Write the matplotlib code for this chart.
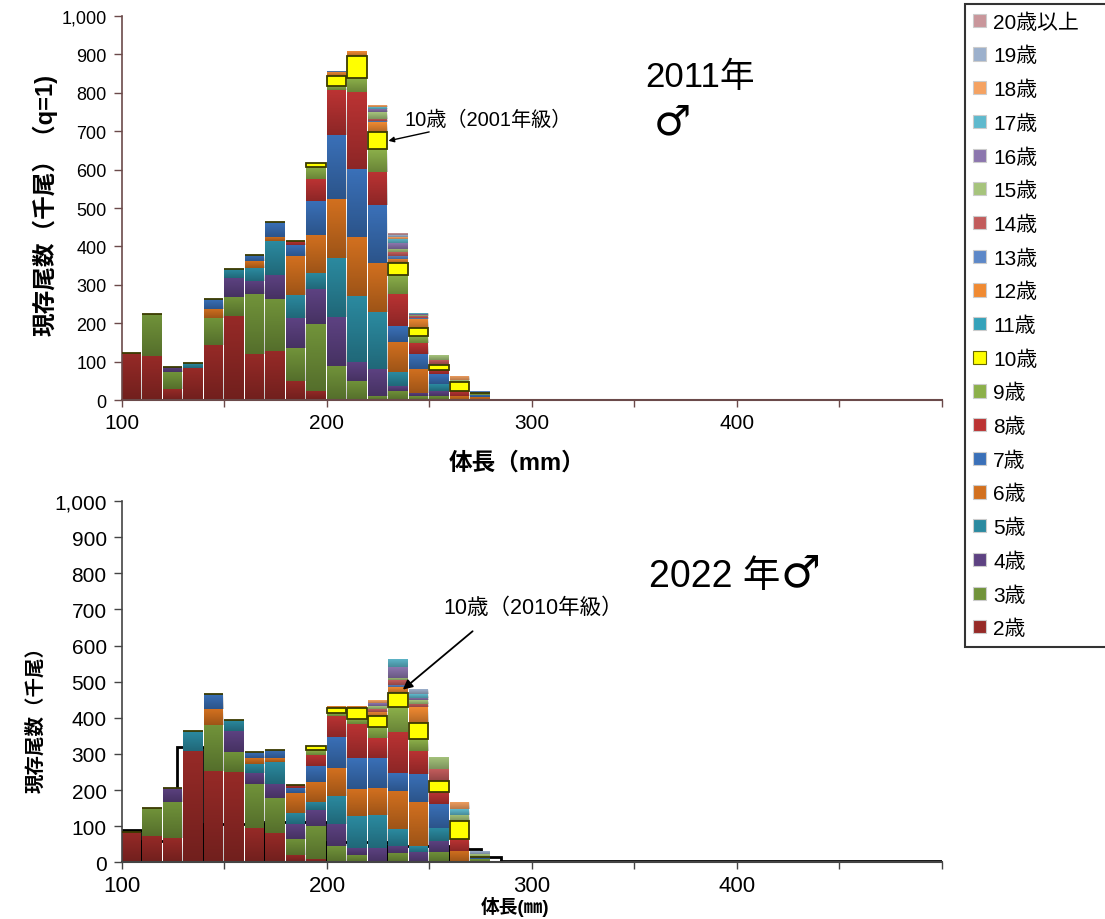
import matplotlib
matplotlib.use("Agg")
import matplotlib.pyplot as plt
import numpy as np
from matplotlib.patches import Patch
from matplotlib.ticker import FuncFormatter

plt.rcParams["font.family"] = ["Liberation Sans", "Noto Sans CJK JP", "DejaVu Sans"]

# 10 mm length bins (left edges)
bins = [100, 110, 120, 130, 140, 150, 160, 170, 180, 190,
        200, 210, 220, 230, 240, 250, 260, 270]

ages = ["2歳", "3歳", "4歳", "5歳", "6歳", "7歳", "8歳", "9歳", "10歳", "11歳",
        "12歳", "13歳", "14歳", "15歳", "16歳", "17歳", "18歳", "19歳", "20歳以上"]
age_colors = ["#962a27", "#71933a", "#5d4282", "#2b8aa0", "#d2701f", "#3a70b8",
              "#bb3333", "#8cb04a", "#ffff00", "#35a2ba", "#f08a32", "#5d88c8",
              "#c25c5c", "#a6c47c", "#8c76ae", "#5fb9cd", "#f5a262", "#9cb0cc",
              "#c9969b"]

# 2011, males: stock numbers (thousand fish) per bin, one list per age
a02_2011 = [122, 114, 28, 83, 144, 220, 120, 127, 50, 24, 2, 0, 0, 0, 0, 0, 0, 0]
a03_2011 = [0, 110, 44, 0, 69, 47, 156, 136, 85, 174, 86, 50, 11, 24, 10, 11, 0, 0]
a04_2011 = [0, 0, 15, 0, 0, 51, 35, 63, 78, 91, 127, 48, 71, 13, 8, 13, 0, 0]
a05_2011 = [0, 0, 0, 13, 0, 23, 33, 87, 60, 42, 154, 174, 146, 35, 0, 18, 0, 0]
a06_2011 = [0, 0, 0, 0, 24, 0, 17, 11, 101, 99, 154, 153, 129, 80, 63, 0, 11, 8]
a07_2011 = [0, 0, 0, 0, 26, 0, 17, 39, 30, 89, 167, 177, 151, 40, 39, 26, 0, 6]
a08_2011 = [0, 0, 0, 0, 0, 0, 0, 0, 9, 57, 117, 201, 87, 84, 28, 11, 13, 0]
a09_2011 = [0, 0, 0, 0, 0, 0, 0, 0, 0, 32, 12, 35, 59, 50, 18, 0, 0, 5]
a10_2011 = [0, 0, 0, 0, 0, 0, 0, 0, 0, 9, 24, 57, 43, 31, 21, 12, 22, 0]
a11_2011 = [0, 0, 0, 0, 0, 0, 0, 0, 0, 0, 0, 0, 0, 3, 0, 0, 0, 0]
a12_2011 = [0, 0, 0, 0, 0, 0, 0, 0, 0, 0, 12, 13, 26, 8, 24, 0, 0, 0]
a13_2011 = [0, 0, 0, 0, 0, 0, 0, 0, 0, 0, 3, 0, 4, 8, 3, 4, 0, 5]
a14_2011 = [0, 0, 0, 0, 0, 0, 0, 0, 0, 0, 0, 0, 6, 10, 4, 10, 0, 0]
a15_2011 = [0, 0, 0, 0, 0, 0, 0, 0, 0, 0, 0, 0, 16, 8, 3, 12, 5, 0]
a16_2011 = [0, 0, 0, 0, 0, 0, 0, 0, 0, 0, 0, 0, 8, 14, 3, 0, 0, 0]
a17_2011 = [0, 0, 0, 0, 0, 0, 0, 0, 0, 0, 0, 0, 5, 12, 2, 0, 0, 0]
a18_2011 = [0, 0, 0, 0, 0, 0, 0, 0, 0, 0, 0, 0, 5, 5, 0, 0, 12, 0]
a19_2011 = [0, 0, 0, 0, 0, 0, 0, 0, 0, 0, 0, 0, 2, 5, 0, 0, 0, 0]
a20_2011 = [0, 0, 0, 0, 0, 0, 0, 0, 0, 0, 0, 0, 0, 4, 0, 0, 0, 0]

# 2022, males
a02_2022 = [83, 74, 66, 309, 253, 249, 94, 80, 20, 9, 0, 0, 0, 0, 0, 0, 0, 0]
a03_2022 = [0, 76, 100, 0, 127, 55, 123, 97, 45, 92, 44, 20, 0, 25, 0, 28, 0, 8]
a04_2022 = [0, 0, 39, 0, 0, 60, 29, 40, 40, 44, 62, 21, 41, 21, 28, 32, 0, 0]
a05_2022 = [0, 0, 0, 55, 0, 30, 26, 60, 31, 23, 78, 88, 91, 46, 16, 34, 0, 0]
a06_2022 = [0, 0, 0, 0, 44, 0, 16, 11, 55, 53, 76, 74, 73, 106, 122, 0, 32, 0]
a07_2022 = [0, 0, 0, 0, 43, 0, 16, 23, 14, 46, 86, 85, 85, 48, 78, 67, 0, 8]
a08_2022 = [0, 0, 0, 0, 0, 0, 0, 0, 10, 31, 59, 96, 53, 115, 65, 33, 32, 0]
a09_2022 = [0, 0, 0, 0, 0, 0, 0, 0, 0, 13, 8, 14, 32, 68, 32, 0, 0, 0]
a10_2022 = [0, 0, 0, 0, 0, 0, 0, 0, 0, 11, 13, 28, 29, 39, 46, 32, 51, 0]
a11_2022 = [0, 0, 0, 0, 0, 0, 0, 0, 0, 0, 0, 0, 0, 4, 0, 0, 0, 0]
a12_2022 = [0, 0, 0, 0, 0, 0, 0, 0, 0, 0, 7, 7, 12, 12, 42, 0, 0, 0]
a13_2022 = [0, 0, 0, 0, 0, 0, 0, 0, 0, 0, 0, 0, 0, 8, 0, 0, 0, 0]
a14_2022 = [0, 0, 0, 0, 0, 0, 0, 0, 0, 0, 0, 0, 8, 12, 9, 32, 0, 0]
a15_2022 = [0, 0, 0, 0, 0, 0, 0, 0, 0, 0, 0, 0, 8, 6, 10, 34, 17, 8]
a16_2022 = [0, 0, 0, 0, 0, 0, 0, 0, 0, 0, 0, 0, 8, 30, 8, 0, 0, 0]
a17_2022 = [0, 0, 0, 0, 0, 0, 0, 0, 0, 0, 0, 0, 0, 23, 10, 0, 15, 0]
a18_2022 = [0, 0, 0, 0, 0, 0, 0, 0, 0, 0, 0, 0, 8, 0, 0, 0, 21, 0]
a19_2022 = [0, 0, 0, 0, 0, 0, 0, 0, 0, 0, 0, 0, 0, 0, 13, 0, 0, 8]
a20_2022 = [0, 0, 0, 0, 0, 0, 0, 0, 0, 0, 0, 0, 0, 0, 0, 0, 0, 0]

# 2022 reference totals drawn as black outline bins
ref_edges = [100, 110, 127, 140, 170, 200, 230, 260, 275, 285, 500]
ref_totals = [90, 60, 320, 106, 111, 56, 45, 37, 15, 3]

counts_2011 = [a02_2011, a03_2011, a04_2011, a05_2011, a06_2011, a07_2011, a08_2011,
               a09_2011, a10_2011, a11_2011, a12_2011, a13_2011, a14_2011, a15_2011,
               a16_2011, a17_2011, a18_2011, a19_2011, a20_2011]
counts_2022 = [a02_2022, a03_2022, a04_2022, a05_2022, a06_2022, a07_2022, a08_2022,
               a09_2022, a10_2022, a11_2022, a12_2022, a13_2022, a14_2022, a15_2022,
               a16_2022, a17_2022, a18_2022, a19_2022, a20_2022]

# vertical shading (dark at the bottom of each segment)
shade = np.zeros((64, 1, 4))
shade[:, 0, 3] = np.linspace(0.0, 0.25, 64)

SYMBOL_FONT = ["DejaVu Sans", "Noto Sans CJK JP"]


def stacked(ax, counts):
    bottom = np.zeros(len(bins))
    for label, vals, color in zip(ages, counts, age_colors):
        vals = np.array(vals, dtype=float)
        if label == "10歳":
            bars = ax.bar(bins, vals, width=9.5, bottom=bottom, align="edge",
                          color=color, edgecolor="#3a3a00", linewidth=1.3, zorder=3)
        else:
            bars = ax.bar(bins, vals, width=9.5, bottom=bottom, align="edge",
                          color=color, linewidth=0, zorder=2)
            for p in bars:
                if p.get_height() <= 0:
                    continue
                x0, y0 = p.get_x(), p.get_y()
                im = ax.imshow(shade, extent=(x0, x0 + p.get_width(), y0, y0 + p.get_height()),
                               aspect="auto", zorder=2.1, interpolation="bilinear")
                im.set_clip_path(p)
        bottom += vals


def style_axis(ax, ysize, xsize, spine_color):
    ax.set_xlim(100, 500)
    ax.set_ylim(0, 1000)
    ax.set_yticks(np.arange(0, 1001, 100))
    ax.yaxis.set_major_formatter(FuncFormatter(lambda v, _: f"{v:,.0f}"))
    ax.set_xticks(np.arange(100, 501, 50))
    ax.set_xticklabels(["100", "", "200", "", "300", "", "400", "", ""])
    ax.tick_params(axis="y", labelsize=ysize, length=6, width=1, color=spine_color, pad=5)
    ax.tick_params(axis="x", labelsize=xsize, length=5, width=1, color=spine_color, pad=4)
    for s in ["top", "right"]:
        ax.spines[s].set_visible(False)
    ax.spines["left"].set_color(spine_color)
    ax.spines["bottom"].set_color(spine_color)
    ax.spines["left"].set_linewidth(1.2)
    ax.spines["bottom"].set_linewidth(1.5)


fig = plt.figure(figsize=(11.05, 9.2), dpi=100)
ax1 = fig.add_axes([0.1104, 0.5641, 0.742, 0.4174])
ax2 = fig.add_axes([0.1104, 0.0616, 0.742, 0.3927])

# === 2011 ===
stacked(ax1, counts_2011)
style_axis(ax1, 13, 15, "#6b4a4a")
ax1.annotate("10歳（2001年級）", xy=(230, 675), xytext=(238, 732),
             fontsize=14.5, ha="left", va="center",
             arrowprops=dict(arrowstyle="-|>", color="black", lw=1, mutation_scale=8,
                             shrinkA=2, shrinkB=0))

# === 2022 ===
ref_w = np.diff(ref_edges)
ax2.bar(ref_edges[:-1], ref_totals, width=ref_w, align="edge", fill=False,
        edgecolor="black", linewidth=2, zorder=1.5)
stacked(ax2, counts_2022)
style_axis(ax2, 15, 16, "#444444")
ax2.annotate("10歳（2010年級）", xy=(237, 478), xytext=(257, 706),
             fontsize=15.5, ha="left", va="center",
             arrowprops=dict(arrowstyle="-|>", color="black", lw=1.3, mutation_scale=14,
                             shrinkA=12, shrinkB=0, relpos=(0.25, 0.0)))

# axis labels and titles
fig.text(45 / 1105, 1 - 205 / 920, "現存尾数（千尾）（q=1)", rotation=90,
         ha="center", va="center", fontsize=17, fontweight="bold")
fig.text(36 / 1105, 1 - 715 / 920, "現存尾数（千尾）", rotation=90,
         ha="center", va="center", fontsize=14, fontweight="bold")
fig.text(517 / 1105, 1 - 463 / 920, "体長（mm）", ha="center", va="center",
         fontsize=17, fontweight="bold")
fig.text(515 / 1105, 1 - 907 / 920, "体長(㎜)", ha="center", va="center",
         fontsize=13.5, fontweight="bold")
fig.text(700 / 1105, 1 - 78 / 920, "2011年", ha="center", va="center", fontsize=25)
fig.text(672 / 1105, 1 - 122 / 920, "♂", ha="center", va="center", fontsize=30,
         family=SYMBOL_FONT)
fig.text(780 / 1105, 1 - 577 / 920, "2022 年", ha="right", va="center", fontsize=27)
fig.text(781 / 1105, 1 - 574 / 920, "♂", ha="left", va="center", fontsize=32,
         family=SYMBOL_FONT)

# legend, oldest at the top
handles = []
for label, color in zip(ages, age_colors):
    edge = "#666600" if label == "10歳" else "#cccccc"
    handles.append(Patch(facecolor=color, edgecolor=edge, linewidth=0.8, label=label))
leg = fig.legend(handles[::-1], ages[::-1], loc="upper left",
                 bbox_to_anchor=(965 / 1105, 0.0, 0.2, 1 - 5 / 920), mode="expand",
                 frameon=True, fancybox=False, edgecolor="black",
                 handlelength=0.6, handleheight=0.6, handletextpad=0.35,
                 labelspacing=0.685, borderpad=0.4, borderaxespad=0,
                 prop={"size": 15})
leg.get_frame().set_linewidth(1.5)

fig.savefig("out.png", dpi=100)
plt.close(fig)
